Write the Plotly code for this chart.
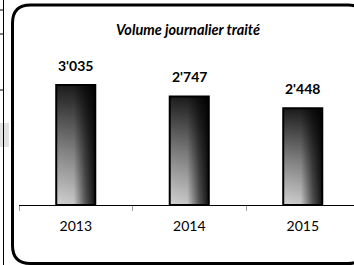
import plotly.graph_objects as go

# ---- data ----
categories = ["2013", "2014", "2015"]
values = [3035, 2747, 2448]
title_text = "Volume journalier traité"

# ---- layout geometry (pixels) ----
W, H = 354, 265
ML, MR, MT, MB = 19, 0, 47, 60
PW, PH = W - ML - MR, H - MT - MB
BAR_W = 0.344


def px(x):
    return (x - ML) / PW


def py(y):
    return (H - MB - y) / PH


fig = go.Figure()

xs = list(range(len(categories)))
for i, v in zip(xs, values):
    x0, x1 = i - BAR_W / 2, i + BAR_W / 2
    poly_x = [x0, x1, x1, x0, x0]
    poly_y = [0, 0, v, v, 0]
    # vertical gradient: light bottom -> dark top
    fig.add_trace(go.Scatter(
        x=poly_x, y=poly_y, mode="lines", fill="toself",
        line=dict(width=0, color="rgba(0,0,0,0)"),
        fillgradient=dict(type="vertical",
                          colorscale=[[0, "#d2d2d2"], [0.45, "#858585"], [1, "#1c1c1c"]]),
        hoverinfo="skip", showlegend=False))
    # horizontal darkening toward right edge
    fig.add_trace(go.Scatter(
        x=poly_x, y=poly_y, mode="lines", fill="toself",
        line=dict(width=2, color="#000000"),
        fillgradient=dict(type="horizontal",
                          colorscale=[[0, "rgba(0,0,0,0)"], [0.45, "rgba(0,0,0,0.05)"],
                                      [0.75, "rgba(0,0,0,0.6)"], [1, "rgba(0,0,0,0.92)"]]),
        hoverinfo="skip", showlegend=False))
    fig.add_annotation(x=i, y=v, text="<b>" + f"{v:,}".replace(",", "'") + "</b>",
                       showarrow=False, yanchor="bottom", yshift=9,
                       font=dict(family="Lato", size=14, color="#000000"))

fig.add_annotation(xref="paper", yref="paper", x=px(188), y=py(29),
                   text="<b><i>" + title_text + "</i></b>", showarrow=False,
                   xanchor="center", yanchor="middle",
                   font=dict(family="Lato", size=14.5, color="#000000"))

# rounded border
x0, x1, y0, y1, r = 12.5, 366, 5, 263.5, 18
pts = [
    ("M", [(x0 + r, y0)]), ("L", [(x1 - r, y0)]), ("Q", [(x1, y0), (x1, y0 + r)]),
    ("L", [(x1, y1 - r)]), ("Q", [(x1, y1), (x1 - r, y1)]),
    ("L", [(x0 + r, y1)]), ("Q", [(x0, y1), (x0, y1 - r)]),
    ("L", [(x0, y0 + r)]), ("Q", [(x0, y0), (x0 + r, y0)]),
]
path = " ".join(c + " " + " ".join(f"{px(a):.5f},{py(b):.5f}" for a, b in p) for c, p in pts) + " Z"
shapes = [dict(type="path", xref="paper", yref="paper", path=path,
               line=dict(color="#000000", width=3))]
# neighbouring sheet fragments on the left
shapes.append(dict(type="rect", xref="paper", yref="paper", x0=px(0), x1=px(9),
                   y0=py(147), y1=py(123), fillcolor="#e2e2e2", line=dict(width=0), layer="below"))
shapes.append(dict(type="line", xref="paper", yref="paper", x0=px(3.5), x1=px(3.5),
                   y0=py(0), y1=py(265), line=dict(color="#000000", width=1)))
for yy in (10, 34, 90):
    shapes.append(dict(type="line", xref="paper", yref="paper", x0=px(0), x1=px(4),
                       y0=py(yy), y1=py(yy), line=dict(color="#000000", width=1)))

fig.update_layout(
    width=W, height=H,
    margin=dict(l=ML, r=MR, t=MT, b=MB, pad=0),
    paper_bgcolor="#ffffff", plot_bgcolor="#ffffff",
    showlegend=False,
    shapes=shapes,
    xaxis=dict(range=[-0.5, -0.5 + PW / 113.5], tickvals=xs, ticktext=categories,
               ticks="", showgrid=False, zeroline=False,
               showline=True, linecolor="#000000", linewidth=1,
               tickfont=dict(family="Lato", size=14, color="#000000"),
               ticklabelstandoff=8,
               minor=dict(tickmode="array", tickvals=[-0.5, 0.5, 1.5, 2.5],
                          ticks="outside", ticklen=5, tickcolor="#a0a0a0", tickwidth=1,
                          showgrid=False),
               fixedrange=True),
    yaxis=dict(range=[0, 4000], visible=False, showgrid=False, zeroline=False, fixedrange=True),
)

fig.write_html("out.html", config={"displayModeBar": False, "staticPlot": True},
               post_script="document.body.style.margin='0';document.body.style.overflow='hidden';")
